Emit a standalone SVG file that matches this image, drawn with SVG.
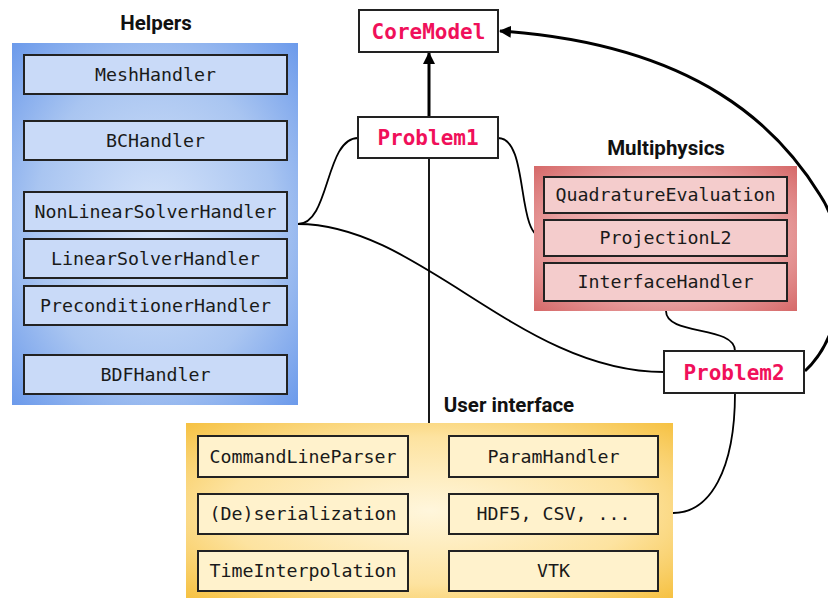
<svg xmlns="http://www.w3.org/2000/svg" width="828" height="598" viewBox="0 0 828 598">
<defs>
<radialGradient id="gBlue" cx="50%" cy="50%" r="70%">
<stop offset="0" stop-color="#d6e4fa"/>
<stop offset="0.6" stop-color="#a9c5f1"/>
<stop offset="1" stop-color="#6d9beb"/>
</radialGradient>
<radialGradient id="gRed" cx="50%" cy="50%" r="70%">
<stop offset="0" stop-color="#f4c6c6"/>
<stop offset="0.6" stop-color="#e9a2a2"/>
<stop offset="1" stop-color="#d66a6a"/>
</radialGradient>
<radialGradient id="gYel" cx="50%" cy="50%" r="70%">
<stop offset="0" stop-color="#fff6dc"/>
<stop offset="0.6" stop-color="#fde3a0"/>
<stop offset="1" stop-color="#f6c244"/>
</radialGradient>
<marker id="arr" viewBox="0 0 12 12" refX="11" refY="6" markerWidth="12" markerHeight="12" markerUnits="userSpaceOnUse" orient="auto">
<path d="M0,0 L12,6 L0,12 z" fill="#000"/>
</marker>
<style>
.title{font-family:Roboto,"Liberation Sans",sans-serif;font-weight:bold;font-size:20.5px;fill:#111;text-anchor:middle}
.item{stroke:#222;stroke-width:2}
.blue{fill:#c9daf8}
.red{fill:#f4cccc}
.yel{fill:#fff2cc}
.mono{font-family:"DejaVu Sans Mono","Liberation Mono",monospace;font-size:18.3px;fill:#1a1a1a;text-anchor:middle}
.core{fill:#fff;stroke:#222;stroke-width:2}
.pink{font-family:"DejaVu Sans Mono","Liberation Mono",monospace;font-weight:bold;font-size:21px;fill:#f0105a;text-anchor:middle}
.con{fill:none;stroke:#000;stroke-width:1.8}
.thick{fill:none;stroke:#000;stroke-width:3}
</style>
</defs>
<rect width="828" height="598" fill="#fff"/>

<g id="connectors">
<path class="con" d="M429,158 L429,423"/>
<path class="con" d="M358,138 C325,138 330,224 298,224"/>
<path class="con" d="M498,138 C530,138 515,238 544,238"/>
<path class="con" d="M298,224 C420,224 520,372 664,372"/>
<path class="con" d="M666,311 C666,336 735,325 735,351"/>
<path class="con" d="M735,393 C735,470 710,513 673,513"/>
<path class="thick" d="M429,117 L429,53" marker-end="url(#arr)"/>
<path class="thick" d="M805,371 C850,330 850,240 820,195 C780,130 700,45 500,31" marker-end="url(#arr)"/>
</g>

<g id="helpers">
<text class="title" x="156" y="30">Helpers</text>
<rect x="12" y="43" width="286" height="362" fill="url(#gBlue)"/>
<g id="MeshHandler"><rect class="item blue" x="24" y="55" width="263" height="39"/><text class="mono" x="155.5" y="80.5">MeshHandler</text></g>
<g id="BCHandler"><rect class="item blue" x="24" y="121" width="263" height="39"/><text class="mono" x="155.5" y="146.5">BCHandler</text></g>
<g id="NonLinearSolverHandler"><rect class="item blue" x="24" y="192" width="263" height="39"/><text class="mono" x="155.5" y="217.5">NonLinearSolverHandler</text></g>
<g id="LinearSolverHandler"><rect class="item blue" x="24" y="239" width="263" height="39"/><text class="mono" x="155.5" y="264.5">LinearSolverHandler</text></g>
<g id="PreconditionerHandler"><rect class="item blue" x="24" y="286" width="263" height="39"/><text class="mono" x="155.5" y="311.5">PreconditionerHandler</text></g>
<g id="BDFHandler"><rect class="item blue" x="24" y="355" width="263" height="39"/><text class="mono" x="155.5" y="380.5">BDFHandler</text></g>
</g>

<g id="multiphysics">
<text class="title" x="666" y="155">Multiphysics</text>
<rect x="534" y="166" width="263" height="145" fill="url(#gRed)"/>
<g id="QuadratureEvaluation"><rect class="item red" x="544" y="177" width="243" height="36"/><text class="mono" x="665.5" y="201">QuadratureEvaluation</text></g>
<g id="ProjectionL2"><rect class="item red" x="544" y="220" width="243" height="36"/><text class="mono" x="665.5" y="244">ProjectionL2</text></g>
<g id="InterfaceHandler"><rect class="item red" x="544" y="263" width="243" height="38"/><text class="mono" x="665.5" y="288">InterfaceHandler</text></g>
</g>

<g id="userinterface">
<text class="title" x="509" y="412">User interface</text>
<rect x="186" y="423" width="487" height="175" fill="url(#gYel)"/>
<g id="CommandLineParser"><rect class="item yel" x="198" y="436" width="210" height="41"/><text class="mono" x="303" y="462.5">CommandLineParser</text></g>
<g id="ParamHandler"><rect class="item yel" x="449" y="436" width="209" height="41"/><text class="mono" x="553.5" y="462.5">ParamHandler</text></g>
<g id="Deserialization"><rect class="item yel" x="198" y="494" width="210" height="40"/><text class="mono" x="303" y="520">(De)serialization</text></g>
<g id="HDF5"><rect class="item yel" x="449" y="494" width="209" height="40"/><text class="mono" x="553.5" y="520">HDF5, CSV, ...</text></g>
<g id="TimeInterpolation"><rect class="item yel" x="198" y="551" width="210" height="40"/><text class="mono" x="303" y="577">TimeInterpolation</text></g>
<g id="VTK"><rect class="item yel" x="449" y="551" width="209" height="40"/><text class="mono" x="553.5" y="577">VTK</text></g>
</g>

<g id="CoreModel"><rect class="core" x="359" y="10" width="139" height="42"/><text class="pink" x="428.5" y="38.5">CoreModel</text></g>
<g id="Problem1"><rect class="core" x="358" y="117" width="140" height="41"/><text class="pink" x="428" y="145">Problem1</text></g>
<g id="Problem2"><rect class="core" x="664" y="351" width="140" height="42"/><text class="pink" x="734" y="379.5">Problem2</text></g>
</svg>
